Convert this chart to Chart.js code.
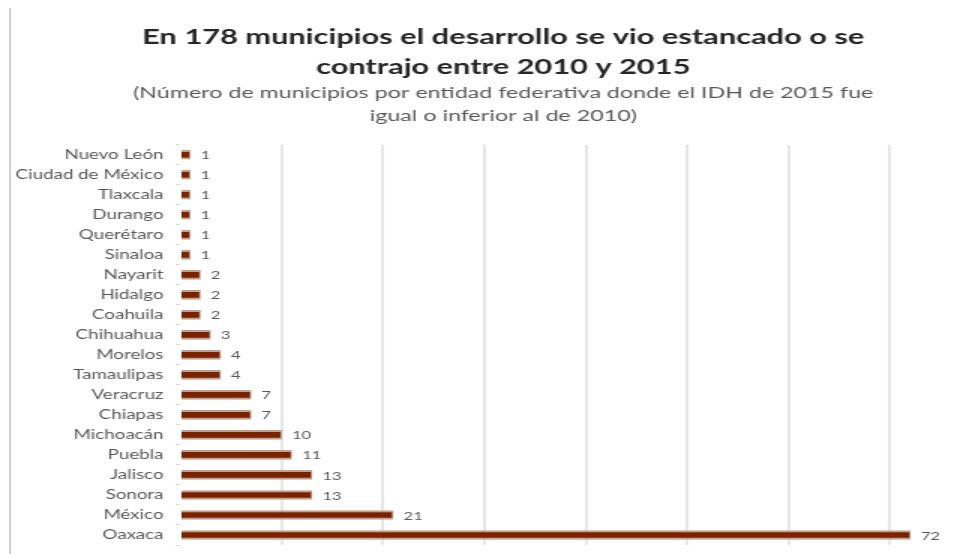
<!DOCTYPE html>
<html>
<head>
<meta charset="utf-8">
<script src="https://cdn.jsdelivr.net/npm/chart.js@4.4.0/dist/chart.umd.min.js"></script>
<style>
  html, body { margin: 0; padding: 0; background: #fff; overflow: hidden; }
  #wrap { position: relative; width: 974px; height: 554px; overflow: hidden; }
  #frame { position: absolute; left: 9px; top: 8px; width: 2px; height: 546px; background: #d0d0d0; }
  /* la imagen original viene estirada en horizontal */
  #municipios { position: absolute; left: 0; top: 0; transform: scaleX(1.5); transform-origin: 0 0; }
</style>
</head>
<body>
<div id="wrap">
  <canvas id="municipios" width="676" height="554"></canvas>
  <div id="frame"></div>
</div>
<script>
  const estados = ['Nuevo León','Ciudad de México','Tlaxcala','Durango','Querétaro','Sinaloa','Nayarit','Hidalgo','Coahuila','Chihuahua','Morelos','Tamaulipas','Veracruz','Chiapas','Michoacán','Puebla','Jalisco','Sonora','México','Oaxaca'];
  const municipios = [1,1,1,1,1,1,2,2,2,3,4,4,7,7,10,11,13,13,21,72];
  const ejeMax = 80;
  const ejePaso = 10;

  Chart.defaults.font.family = 'Lato, "Open Sans", sans-serif'
  Chart.defaults.color = '#595959'

  // etiquetas de valor al final de cada barra
  const etiquetas = {
    id: 'etiquetas',
    afterDatasetsDraw(chart) {
      const ctx = chart.ctx;
      const meta = chart.getDatasetMeta(0);
      ctx.save();
      ctx.font = '11px Lato, "Open Sans", sans-serif';
      ctx.fillStyle = '#595959';
      ctx.textBaseline = 'middle';
      meta.data.forEach((bar, i) => {
        ctx.fillText(municipios[i], bar.x + 7, bar.y + 1);
      });
      ctx.restore();
    }
  };

  new Chart(document.getElementById('municipios'), {
    type: 'bar',
    data: {
      labels: estados,
      datasets: [{
        data: municipios,
        backgroundColor: '#7a2200',
        borderColor: '#c0a08e',
        borderWidth: { top: 2, bottom: 2, right: 1 },
        borderSkipped: 'start',
        barThickness: 9
      }]
    },
    options: {
      indexAxis: 'y',
      responsive: false,
      animation: false,
      layout: { padding: { left: 10, right: 15, bottom: 9 } },
      plugins: {
        legend: { display: false },
        tooltip: { enabled: false },
        title: {
          display: true,
          text: ['En 178 municipios el desarrollo se vio estancado o se', 'contrajo entre 2010 y 2015'],
          color: '#262626',
          font: { size: 20.5, weight: 'bold', lineHeight: 1.46 },
          padding: { top: 22, bottom: 0 }
        },
        subtitle: {
          display: true,
          text: ['(Número de municipios por entidad federativa donde el IDH de 2015 fue', 'igual o inferior al de 2010)'],
          color: '#595959',
          font: { size: 15.5, lineHeight: 1.48 },
          padding: { bottom: 17 }
        }
      },
      scales: {
        x: {
          min: 0,
          max: ejeMax,
          afterFit: (s) => { s.height = 0 },
          ticks: { display: false, stepSize: ejePaso },
          grid: {
            color: (c) => c.tick && c.tick.value === 0 ? 'rgba(0,0,0,0)' : '#e6e6e6',
            lineWidth: 2,
            drawTicks: false
          },
          border: { display: false }
        },
        y: {
          afterFit: (s) => { s.width = 110; s.paddingTop = 0; s.paddingBottom = 0 },
          ticks: { font: { size: 12.5 }, color: '#595959', padding: 8 },
          grid: { drawOnChartArea: false, tickLength: 3, color: '#d9d9d9' },
          border: { display: false }
        }
      }
    },
    plugins: [etiquetas]
  });
</script>
</body>
</html>
